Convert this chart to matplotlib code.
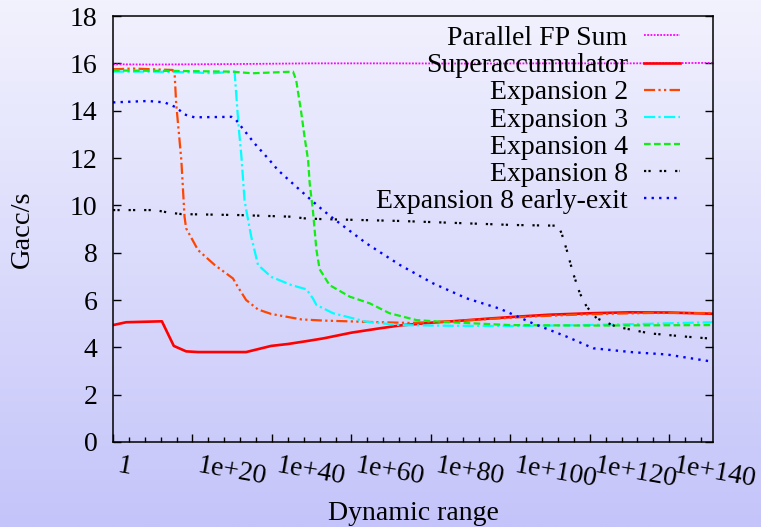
import numpy as np
import matplotlib
matplotlib.use("Agg")
import matplotlib.pyplot as plt
from matplotlib.ticker import FixedLocator, FuncFormatter, NullFormatter
import matplotlib.transforms as mtransforms

plt.rcParams['font.family'] = ['Liberation Serif', 'DejaVu Serif']

# x values are given as decimal exponents (dynamic range = 10**exp)
fp_exp = [0, 10, 30, 50, 70, 90, 110, 130, 151]
fp_val = [15.96, 15.95, 15.97, 16.0, 16.0, 15.99, 16.0, 16.0, 16.02]

sacc_exp = [0, 3.3, 12.3, 15.3, 18.4, 21.4, 33.5, 39.8, 44, 49, 53, 60, 67, 72, 80, 87, 95, 102,
            110, 120, 130, 140, 151]
sacc_val = [4.94, 5.06, 5.1, 4.06, 3.83, 3.80, 3.80, 4.06, 4.14, 4.27, 4.38, 4.62, 4.80, 4.92,
            5.04, 5.12, 5.22, 5.30, 5.38, 5.44, 5.48, 5.47, 5.42]

exp2_exp = [0, 5, 10, 15, 15.5, 15.9, 16.5, 17.2, 18, 18.4, 21.4, 25.6, 30.2, 31.4, 33.5, 36.5,
            39.8, 47.4, 53, 65, 75, 85, 95, 105, 115, 125, 135, 151]
exp2_val = [15.75, 15.78, 15.75, 15.72, 15.58, 14.3, 13.2, 11.9, 9.52, 9.03, 8.11, 7.48, 6.91,
            6.56, 6.0, 5.6, 5.41, 5.18, 5.13, 5.07, 5.03, 5.1, 5.2, 5.3, 5.37, 5.42, 5.45, 5.45]

exp3_exp = [0, 10, 20, 25, 30.6, 31.3, 31.7, 32.3, 33.1, 34, 34.8, 36.5, 39.8, 44.9, 48.7,
            50.3, 51.2, 55.4, 63.8, 72.2, 85, 100, 115, 131, 151]
exp3_val = [15.65, 15.65, 15.62, 15.58, 15.65, 14.03, 13.18, 12.1, 10.22, 9.38, 8.67, 7.48, 6.98,
            6.63, 6.45, 6.07, 5.79, 5.44, 5.08, 4.94, 4.91, 4.9, 4.93, 4.98, 5.06]

exp4_exp = [0, 15, 30, 35, 45.3, 46.1, 47.4, 48.2, 49.1, 49.5, 50.3, 51.2, 52, 54.5, 59.6,
            64.6, 69.6, 76.4, 84.8, 100, 120, 151]
exp4_val = [15.7, 15.68, 15.65, 15.58, 15.65, 15.29, 13.89, 12.9, 11.91, 10.93, 9.8, 8.11, 7.3,
            6.63, 6.14, 5.86, 5.44, 5.15, 5.06, 4.94, 4.92, 4.94]

exp8_exp = [0, 10.5, 13.8, 17.2, 31.4, 44.9, 48.2, 52.4, 72.2, 100.7, 112, 112.9, 114.2, 115.8,
            117.5, 119.2, 121.7, 126.7, 135.1, 144.3, 149.6]
exp8_val = [9.8, 9.8, 9.7, 9.63, 9.59, 9.52, 9.45, 9.42, 9.34, 9.17, 9.14, 8.82, 8.11, 7.13,
            6.28, 5.72, 5.23, 4.87, 4.59, 4.45, 4.38]

early_exp = [0, 8.8, 13, 15.9, 18, 20.5, 29.8, 31, 32.3, 35.6, 39.4, 41.5, 46.1, 49.9, 52.8,
             55.4, 63.8, 72.2, 80.6, 89, 97.4, 105.7, 114.2, 120.9, 131, 139.3, 151]
early_val = [14.35, 14.41, 14.35, 14.14, 13.84, 13.72, 13.74, 13.6, 13.32, 12.62, 11.91, 11.49,
             10.79, 10.22, 9.8, 9.45, 8.39, 7.48, 6.70, 6.07, 5.63, 5.01, 4.45, 3.96, 3.79, 3.7,
             3.39]

series = [
    ("Parallel FP Sum", fp_exp, fp_val, '#ff00ff', (0, (1, 0.8)), 1.3),
    ("Superaccumulator", sacc_exp, sacc_val, '#ff0000', '-', 1.9),
    ("Expansion 2", exp2_exp, exp2_val, '#ff4500', (0, (5, 1.5, 1, 1.5, 1, 1.5)), 1.6),
    ("Expansion 3", exp3_exp, exp3_val, '#00ffff', (0, (5, 1.5, 1, 1.5)), 1.6),
    ("Expansion 4", exp4_exp, exp4_val, '#11ee11', (0, (3, 1.5)), 1.6),
    ("Expansion 8", exp8_exp, exp8_val, '#000000', (0, (1, 1, 1, 4)), 1.6),
    ("Expansion 8 early-exit", early_exp, early_val, '#0000ff', (0, (1, 2.2)), 1.7),
]

FS = 20

fig = plt.figure(figsize=(7.61, 5.27), dpi=100)

# vertical gradient background
bg = fig.add_axes([0, 0, 1, 1], zorder=-10)
top = np.array([0xf2, 0xf2, 0xfe]) / 255.0
bot = np.array([0xc4, 0xc4, 0xfa]) / 255.0
t = np.linspace(0, 1, 256)[:, None]
grad = top[None, :] * (1 - t) + bot[None, :] * t
bg.imshow(grad[:, None, :], aspect='auto', extent=[0, 1, 0, 1])
bg.axis('off')

ax = fig.add_axes([0.1485, 0.1613, 0.7884, 0.8083])
ax.set_facecolor('none')

for name, ex, val, col, ls, lw in series:
    ax.plot(10.0 ** np.array(ex), val, color=col, linestyle=ls, linewidth=lw, label=name)

ax.set_xscale('log')
ax.set_xlim(1, 10.0 ** 151)
ax.set_ylim(0, 18)
ax.set_yticks(np.arange(0, 19, 2))

ax.xaxis.set_major_locator(FixedLocator(10.0 ** np.arange(0, 141, 20)))
ax.xaxis.set_minor_locator(FixedLocator(10.0 ** np.arange(0, 152, 4)))
ax.xaxis.set_minor_formatter(NullFormatter())


def fmt(v, pos):
    e = int(round(np.log10(v)))
    return "1" if e == 0 else "1e+%d" % e


ax.xaxis.set_major_formatter(FuncFormatter(fmt))

ax.tick_params(axis='both', which='major', direction='in', labelsize=FS, length=6, width=1)
ax.tick_params(axis='y', pad=11, right=True)
ax.tick_params(axis='x', pad=8)
ax.tick_params(axis='x', which='minor', direction='in', length=3.5, width=1)
for sp in ax.spines.values():
    sp.set_linewidth(1.1)

off = mtransforms.ScaledTranslation(7 / 100, 0, fig.dpi_scale_trans)
for lab in ax.get_xticklabels():
    lab.set_rotation(-10)
    lab.set_ha('left')
    lab.set_va('top')
    lab.set_rotation_mode('anchor')
    lab.set_transform(lab.get_transform() + off)

ax.set_ylabel("Gacc/s", fontsize=20.5, labelpad=25)
ax.set_xlabel("Dynamic range", fontsize=FS, labelpad=6)

leg = ax.legend(loc='upper right', bbox_to_anchor=(0.962, 1.0), markerfirst=False,
                frameon=False, fontsize=FS, handlelength=1.3, handletextpad=0.6,
                labelspacing=0.06, borderpad=0.35, borderaxespad=0)

fig.savefig("out.png", dpi=100)
